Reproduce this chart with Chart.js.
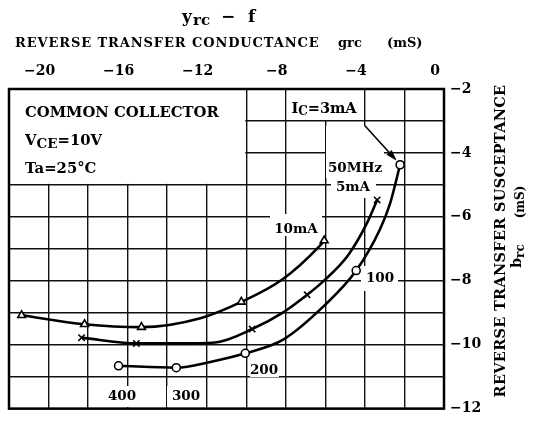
<!DOCTYPE html>
<html><head><meta charset="utf-8">
<script src="https://cdn.jsdelivr.net/npm/chart.js@4.4.0/dist/chart.umd.min.js"></script>
<style>html,body{margin:0;padding:0;background:#fff}#wrap{width:540px;height:423px;position:relative}</style>
</head><body><div id="wrap"><canvas id="c"></canvas></div>
<script>
// ---- tick labels ----
const xTickValues = [-20, -16, -12, -8, -4, 0];
const yTickValues = [-12, -10, -8, -6, -4, -2];

// ---- IC = 3 mA (circles), frequency labels ----
const ic3Freq   = ['50MHz', '100', '200', '300', '400'];
const ic3G      = [-2.22, -4.44, -10.05, -13.54, -16.46];
const ic3B      = [-4.37, -7.68, -10.27, -10.72, -10.66];
const ic3CurveG = [-16.46, -13.54, -11.82, -10.05, -8.13, -6.11, -4.44, -3.23, -2.73, -2.22];
const ic3CurveB = [-10.66, -10.72, -10.54, -10.27, -9.84, -8.81, -7.68, -6.38, -5.59, -4.37];

// ---- IC = 5 mA (crosses) ----
const ic5G      = [-3.38, -6.92, -9.70, -15.56, -18.33];
const ic5B      = [-5.47, -8.44, -9.51, -9.96, -9.78];
const ic5CurveG = [-18.33, -15.56, -13.54, -11.57, -9.70, -8.13, -6.92, -6.11, -4.85, -3.89, -3.38];
const ic5CurveB = [-9.78, -9.96, -9.96, -9.93, -9.51, -8.99, -8.44, -8.02, -7.20, -6.19, -5.47];

// ---- IC = 10 mA (triangles) ----
const ic10G      = [-6.06, -10.25, -15.30, -18.18, -21.36];
const ic10B      = [-6.74, -8.66, -9.45, -9.36, -9.08];
const ic10CurveG = [-21.36, -18.18, -15.30, -12.32, -10.25, -8.18, -6.26, -6.06];
const ic10CurveB = [-9.08, -9.36, -9.45, -9.17, -8.66, -7.96, -6.89, -6.74];

const F = '"DejaVu Serif", serif';
const pts = (gs, bs) => gs.map((g, i) => ({x: g, y: bs[i]}));
const fmt = v => v === 0 ? '0' : '\u2212' + Math.abs(v);

function lineDs(gs, bs) {
  return {data: pts(gs, bs), showLine: true, borderColor: '#000', borderWidth: 2.6,
    pointRadius: 0, cubicInterpolationMode: 'monotone', order: 2};
}
function markDs(gs, bs, style, r) {
  return {data: pts(gs, bs), showLine: false, pointStyle: style, pointRadius: r,
    pointBackgroundColor: '#fff', pointBorderColor: '#000', pointBorderWidth: 1.6, order: 1};
}

function rich(ctx, x, y, parts, align) {
  let w = 0;
  for (const p of parts) { ctx.font = 'bold ' + p.s + 'px ' + F; w += ctx.measureText(p.t).width; }
  let cx = align === 'center' ? x - w / 2 : (align === 'right' ? x - w : x);
  ctx.textAlign = 'left'; ctx.textBaseline = 'alphabetic';
  for (const p of parts) {
    ctx.font = 'bold ' + p.s + 'px ' + F;
    ctx.fillText(p.t, cx, y + (p.dy || 0));
    cx += ctx.measureText(p.t).width;
  }
}

// annotation labels: text, center x, baseline y, white box [x0,y0,x1,y1]
const notes = [
  {t: '400', x: 122, y: 400, box: [107, 386, 140, 407]},
  {t: '300', x: 186, y: 400, box: [167, 386, 205, 407]},
  {t: '200', x: 264, y: 374, box: [250, 362, 279, 377]},
  {t: '100', x: 380, y: 282, box: [361, 266, 398, 291]},
  {t: '10mA', x: 296, y: 233, box: [270, 214, 322, 236]},
  {t: '50MHz', x: 355, y: 172, box: [326, 126, 384, 178]},
  {t: '5mA', x: 353, y: 191, box: [331, 178, 376, 198]},
];

const deco = {
  id: 'deco',
  beforeDatasetsDraw(chart) {
    const {ctx, chartArea: a, scales: {x, y}} = chart;
    const X = v => x.getPixelForValue(v), Y = v => y.getPixelForValue(v);
    ctx.save();
    ctx.fillStyle = '#fff';
    ctx.fillRect(X(-22) + 1, Y(-2) + 1, X(-10) - X(-22) - 2, Y(-5) - Y(-2) - 2);
    ctx.fillRect(X(-8) + 1, Y(-2) + 1, X(-4) - X(-8) - 2, Y(-3) - Y(-2) - 2);
    for (const n of notes) ctx.fillRect(n.box[0], n.box[1], n.box[2] - n.box[0], n.box[3] - n.box[1]);
    // frame
    ctx.strokeStyle = '#000'; ctx.lineWidth = 2.5;
    ctx.strokeRect(a.left, a.top, a.right - a.left, a.bottom - a.top);
    ctx.fillStyle = '#000';
    // condition box text
    rich(ctx, 25, 117, [{t: 'COMMON COLLECTOR', s: 14.8}], 'left');
    rich(ctx, 25, 145, [{t: 'V', s: 14.8}, {t: 'CE', s: 13.5, dy: 3}, {t: '=10V', s: 14.8}], 'left');
    rich(ctx, 25, 173, [{t: 'Ta=25\u00B0C', s: 14.8}], 'left');
    rich(ctx, 324, 113, [{t: 'I', s: 14.5}, {t: 'C', s: 12, dy: 2}, {t: '=3mA', s: 14.5}], 'center');
    for (const n of notes) rich(ctx, n.x, n.y, [{t: n.t, s: 13.5}], 'center');
    // arrow from IC box corner to the 50 MHz point
    const x0 = X(-4), y0 = Y(-3.15), x1 = X(-2.47), y1 = Y(-4.19);
    ctx.lineWidth = 1.6;
    ctx.beginPath(); ctx.moveTo(x0, y0); ctx.lineTo(x1, y1); ctx.stroke();
    const ang = Math.atan2(y1 - y0, x1 - x0), L = 9, W = 3.5;
    ctx.beginPath();
    ctx.moveTo(x1 + 2 * Math.cos(ang), y1 + 2 * Math.sin(ang));
    ctx.lineTo(x1 - L * Math.cos(ang) + W * Math.sin(ang), y1 - L * Math.sin(ang) - W * Math.cos(ang));
    ctx.lineTo(x1 - L * Math.cos(ang) - W * Math.sin(ang), y1 - L * Math.sin(ang) + W * Math.cos(ang));
    ctx.closePath(); ctx.fill();
    ctx.restore();
  },
  afterDraw(chart) {
    const ctx = chart.ctx;
    ctx.save();
    ctx.fillStyle = '#000';
    // main title
    rich(ctx, 182, 22, [{t: 'y', s: 17}], 'left');
    rich(ctx, 193, 25, [{t: 'rc', s: 15}], 'left');
    rich(ctx, 221, 22, [{t: '\u2212', s: 17}], 'left');
    rich(ctx, 248, 22, [{t: 'f', s: 17}], 'left');
    ctx.letterSpacing = '0.9px';
    rich(ctx, 15, 47, [{t: 'REVERSE TRANSFER CONDUCTANCE', s: 13}], 'left');
    ctx.letterSpacing = '0px';
    rich(ctx, 338, 47, [{t: 'grc', s: 13}], 'left');
    rich(ctx, 387, 47, [{t: '(mS)', s: 13}], 'left');
    // right axis title (rotated)
    ctx.translate(505, 241); ctx.rotate(-Math.PI / 2);
    ctx.letterSpacing = '0.3px';
    rich(ctx, 0, 0, [{t: 'REVERSE TRANSFER SUSCEPTANCE', s: 14.5}], 'center');
    ctx.letterSpacing = '0px';
    rich(ctx, -15, 16, [{t: 'b', s: 14}, {t: 'rc', s: 12, dy: 3}], 'center');
    rich(ctx, 39, 19, [{t: '(mS)', s: 12}], 'center');
    ctx.restore();
  }
};

new Chart(document.getElementById('c'), {
  type: 'scatter',
  data: {
    datasets: [
      lineDs(ic3CurveG, ic3CurveB), lineDs(ic5CurveG, ic5CurveB), lineDs(ic10CurveG, ic10CurveB),
      markDs(ic3G, ic3B, 'circle', 4), markDs(ic5G, ic5B, 'crossRot', 4.5), markDs(ic10G, ic10B, 'triangle', 4.5)
    ]
  },
  options: {
    responsive: true, maintainAspectRatio: false, animation: false, devicePixelRatio: 1,
    layout: {padding: {left: 8, right: 0, top: 0, bottom: 5}},
    plugins: {legend: {display: false}, tooltip: {enabled: false}, title: {display: false}},
    scales: {
      x: {
        type: 'linear', position: 'top', min: -22, max: 0,
        afterFit: s => { s.height = 89; },
        ticks: {stepSize: 2, autoSkip: false, maxRotation: 0, padding: 9, labelOffset: -9,
          color: '#000', font: {family: F, size: 14, weight: 'bold'},
          callback: v => xTickValues.includes(v) ? fmt(v) : ''},
        grid: {color: '#111', lineWidth: 1.4, drawTicks: false},
        border: {display: false}
      },
      y: {
        type: 'linear', position: 'right', min: -12, max: -2,
        afterFit: s => { s.width = 96; },
        ticks: {stepSize: 1, autoSkip: false, padding: 6,
          color: '#000', font: {family: F, size: 14, weight: 'bold'},
          callback: v => yTickValues.includes(v) ? fmt(v) : ''},
        grid: {color: '#111', lineWidth: 1.4, drawTicks: false},
        border: {display: false}
      }
    }
  },
  plugins: [deco]
});
</script></body></html>
